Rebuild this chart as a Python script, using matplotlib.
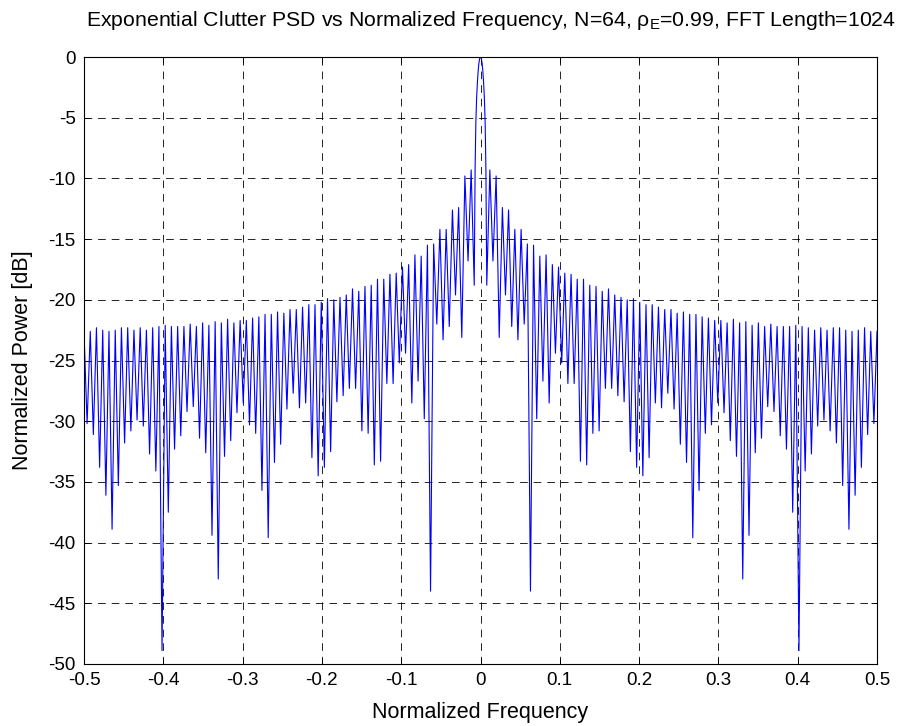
import numpy as np
import matplotlib
matplotlib.use('Agg')
import matplotlib.pyplot as plt

plt.rcParams['font.family'] = ['Liberation Sans', 'DejaVu Sans']
plt.rcParams['mathtext.fontset'] = 'custom'
plt.rcParams['mathtext.rm'] = 'Liberation Sans'
plt.rcParams['mathtext.it'] = 'Liberation Sans'
plt.rcParams['lines.scale_dashes'] = False

# ---------------- data ----------------
# main lobe (around 0 normalized frequency)
mainlobe_freq = [-0.0068, -0.0059, -0.0049, -0.0039, -0.0029, -0.0020, -0.0010, 0.0,
                 0.0010, 0.0020, 0.0029, 0.0039, 0.0049, 0.0059, 0.0068]
mainlobe_db = [-9.2, -5.5, -3.4, -2.1, -1.1, -0.5, -0.1, 0.0,
               -0.1, -0.5, -1.1, -2.1, -3.4, -5.5, -9.2]

# right half: nulls and sidelobe peaks
right_null_freq = [0.0079, 0.0157, 0.0236, 0.0315, 0.0394, 0.0472, 0.0551, 0.0630, 0.0709, 0.0787,
                   0.0866, 0.0945, 0.1024, 0.1102, 0.1181, 0.1260, 0.1339, 0.1417, 0.1496, 0.1575,
                   0.1654, 0.1732, 0.1811, 0.1890, 0.1969, 0.2047, 0.2126, 0.2205, 0.2283, 0.2362,
                   0.2441, 0.2520, 0.2598, 0.2677, 0.2756, 0.2835, 0.2913, 0.2992, 0.3071, 0.3150,
                   0.3228, 0.3307, 0.3386, 0.3465, 0.3543, 0.3622, 0.3701, 0.3780, 0.3858, 0.3937,
                   0.4016, 0.4094, 0.4173, 0.4252, 0.4331, 0.4409, 0.4488, 0.4567, 0.4646, 0.4724,
                   0.4803, 0.4882, 0.4961]
right_null_db = [-18.8, -16.8, -23.1, -19.6, -22.2, -23.3, -22.0, -44.0, -29.8, -26.7,
                 -28.5, -24.4, -25.2, -26.9, -26.9, -33.3, -33.6, -31.0, -30.8, -27.3,
                 -27.3, -27.9, -28.4, -32.5, -33.8, -34.5, -33.0, -28.5, -28.9, -27.7,
                 -29.0, -31.9, -33.4, -39.6, -35.7, -31.0, -30.3, -28.5, -29.3, -31.6,
                 -32.9, -43.0, -39.4, -32.6, -31.4, -28.8, -29.2, -31.2, -32.3, -37.5,
                 -48.9, -34.1, -32.7, -30.4, -29.9, -30.8, -31.8, -35.3, -38.9, -36.1,
                 -33.8, -31.1, -30.2]
right_peak_freq = [0.0118, 0.0197, 0.0276, 0.0354, 0.0433, 0.0512, 0.0591, 0.0669, 0.0748, 0.0827,
                   0.0906, 0.0984, 0.1063, 0.1142, 0.1220, 0.1299, 0.1378, 0.1457, 0.1535, 0.1614,
                   0.1693, 0.1772, 0.1850, 0.1929, 0.2008, 0.2087, 0.2165, 0.2244, 0.2323, 0.2402,
                   0.2480, 0.2559, 0.2638, 0.2717, 0.2795, 0.2874, 0.2953, 0.3031, 0.3110, 0.3189,
                   0.3268, 0.3346, 0.3425, 0.3504, 0.3583, 0.3661, 0.3740, 0.3819, 0.3898, 0.3976,
                   0.4055, 0.4134, 0.4213, 0.4291, 0.4370, 0.4449, 0.4528, 0.4606, 0.4685, 0.4764,
                   0.4843, 0.4921, 0.5000]
right_peak_db = [-9.3, -9.8, -12.4, -12.6, -14.2, -14.2, -15.4, -15.5, -16.4, -16.3,
                 -17.1, -17.3, -17.8, -17.9, -18.3, -18.3, -18.8, -18.9, -19.3, -19.1,
                 -19.6, -19.8, -20.0, -19.9, -20.2, -20.4, -20.4, -20.6, -20.8, -20.8,
                 -21.1, -21.0, -21.2, -21.2, -21.4, -21.5, -21.7, -21.7, -21.9, -21.6,
                 -21.9, -21.8, -22.1, -21.9, -22.2, -22.0, -22.2, -22.2, -22.2, -22.1,
                 -22.2, -22.3, -22.5, -22.3, -22.5, -22.3, -22.3, -22.5, -22.6, -22.5,
                 -22.3, -22.6, -22.6]

# left half: nulls and sidelobe peaks (from -0.5 towards 0)
left_null_freq = [-0.4961, -0.4882, -0.4803, -0.4724, -0.4646, -0.4567, -0.4488, -0.4409, -0.4331, -0.4252,
                  -0.4173, -0.4094, -0.4016, -0.3937, -0.3858, -0.3780, -0.3701, -0.3622, -0.3543, -0.3465,
                  -0.3386, -0.3307, -0.3228, -0.3150, -0.3071, -0.2992, -0.2913, -0.2835, -0.2756, -0.2677,
                  -0.2598, -0.2520, -0.2441, -0.2362, -0.2283, -0.2205, -0.2126, -0.2047, -0.1969, -0.1890,
                  -0.1811, -0.1732, -0.1654, -0.1575, -0.1496, -0.1417, -0.1339, -0.1260, -0.1181, -0.1102,
                  -0.1024, -0.0945, -0.0866, -0.0787, -0.0709, -0.0630, -0.0551, -0.0472, -0.0394, -0.0315,
                  -0.0236, -0.0157, -0.0079]
left_null_db = [-30.2, -31.1, -33.8, -36.1, -38.9, -35.3, -31.8, -30.8, -29.9, -30.4,
                -32.7, -34.1, -48.9, -37.5, -32.3, -31.2, -29.2, -28.8, -31.4, -32.6,
                -39.4, -43.0, -32.9, -31.6, -29.3, -28.5, -30.3, -31.0, -35.7, -39.6,
                -33.4, -31.9, -29.0, -27.7, -28.9, -28.5, -33.0, -34.5, -33.8, -32.5,
                -28.4, -27.9, -27.3, -27.3, -30.8, -31.0, -33.6, -33.3, -26.9, -26.9,
                -25.2, -24.4, -28.5, -26.7, -29.8, -44.0, -22.0, -23.3, -22.2, -19.6,
                -23.1, -16.8, -18.8]
left_peak_freq = [-0.5000, -0.4921, -0.4843, -0.4764, -0.4685, -0.4606, -0.4528, -0.4449, -0.4370, -0.4291,
                  -0.4213, -0.4134, -0.4055, -0.3976, -0.3898, -0.3819, -0.3740, -0.3661, -0.3583, -0.3504,
                  -0.3425, -0.3346, -0.3268, -0.3189, -0.3110, -0.3031, -0.2953, -0.2874, -0.2795, -0.2717,
                  -0.2638, -0.2559, -0.2480, -0.2402, -0.2323, -0.2244, -0.2165, -0.2087, -0.2008, -0.1929,
                  -0.1850, -0.1772, -0.1693, -0.1614, -0.1535, -0.1457, -0.1378, -0.1299, -0.1220, -0.1142,
                  -0.1063, -0.0984, -0.0906, -0.0827, -0.0748, -0.0669, -0.0591, -0.0512, -0.0433, -0.0354,
                  -0.0276, -0.0197, -0.0118]
left_peak_db = [-22.6, -22.6, -22.3, -22.5, -22.6, -22.5, -22.3, -22.3, -22.5, -22.3,
                -22.5, -22.3, -22.2, -22.1, -22.2, -22.2, -22.2, -22.0, -22.2, -21.9,
                -22.1, -21.8, -21.9, -21.6, -21.9, -21.7, -21.7, -21.5, -21.4, -21.2,
                -21.2, -21.0, -21.1, -20.8, -20.8, -20.6, -20.4, -20.4, -20.2, -19.9,
                -20.0, -19.8, -19.6, -19.1, -19.3, -18.9, -18.8, -18.3, -18.3, -17.9,
                -17.8, -17.3, -17.1, -16.3, -16.4, -15.5, -15.4, -14.2, -14.2, -12.6,
                -12.4, -9.8, -9.3]

x_ticks = [-0.5, -0.4, -0.3, -0.2, -0.1, 0.0, 0.1, 0.2, 0.3, 0.4, 0.5]
x_tick_labels = ['-0.5', '-0.4', '-0.3', '-0.2', '-0.1', '0', '0.1', '0.2', '0.3', '0.4', '0.5']
y_ticks = [0, -5, -10, -15, -20, -25, -30, -35, -40, -45, -50]
y_tick_labels = ['0', '-5', '-10', '-15', '-20', '-25', '-30', '-35', '-40', '-45', '-50']

# ---------------- assemble the trace ----------------
all_f = np.concatenate([left_peak_freq, left_null_freq, mainlobe_freq,
                        right_null_freq, right_peak_freq])
all_db = np.concatenate([left_peak_db, left_null_db, mainlobe_db,
                         right_null_db, right_peak_db])
order = np.argsort(all_f, kind='stable')
freq = all_f[order]
power = all_db[order]

# ---------------- figure ----------------
W, H = 902, 726
fig = plt.figure(figsize=(W / 100, H / 100), dpi=100)
fig.patch.set_facecolor('white')
ax = fig.add_axes([84 / W, 1 - 664 / H, (877 - 84) / W, (664 - 57) / H])

ax.plot(freq, power, color=(0, 0, 1), linewidth=0.8)

ax.set_xlim(-0.5, 0.5)
ax.set_ylim(-50, 0)
ax.set_xticks(x_ticks)
ax.set_xticklabels(x_tick_labels)
ax.set_yticks(y_ticks)
ax.set_yticklabels(y_tick_labels)

ax.grid(True, color='black', linestyle=(0, (5.5, 4.3)), linewidth=0.6)
ax.tick_params(direction='in', length=4, width=0.7, top=True, right=True,
               labelsize=13.5, pad=6)
for s in ax.spines.values():
    s.set_linewidth(0.8)
    s.set_color('black')

ax.set_xlabel('Normalized Frequency', fontsize=15.5, labelpad=9)
ax.set_ylabel('Normalized Power [dB]', fontsize=15.5, labelpad=11)
fig.text(491 / W, 1 - 21 / H,
         r'Exponential Clutter PSD vs Normalized Frequency, N=64, $\rho_{\mathrm{E}}$=0.99, FFT Length=1024',
         fontsize=15.3, ha='center', va='center')

fig.savefig('out.png', dpi=100)
